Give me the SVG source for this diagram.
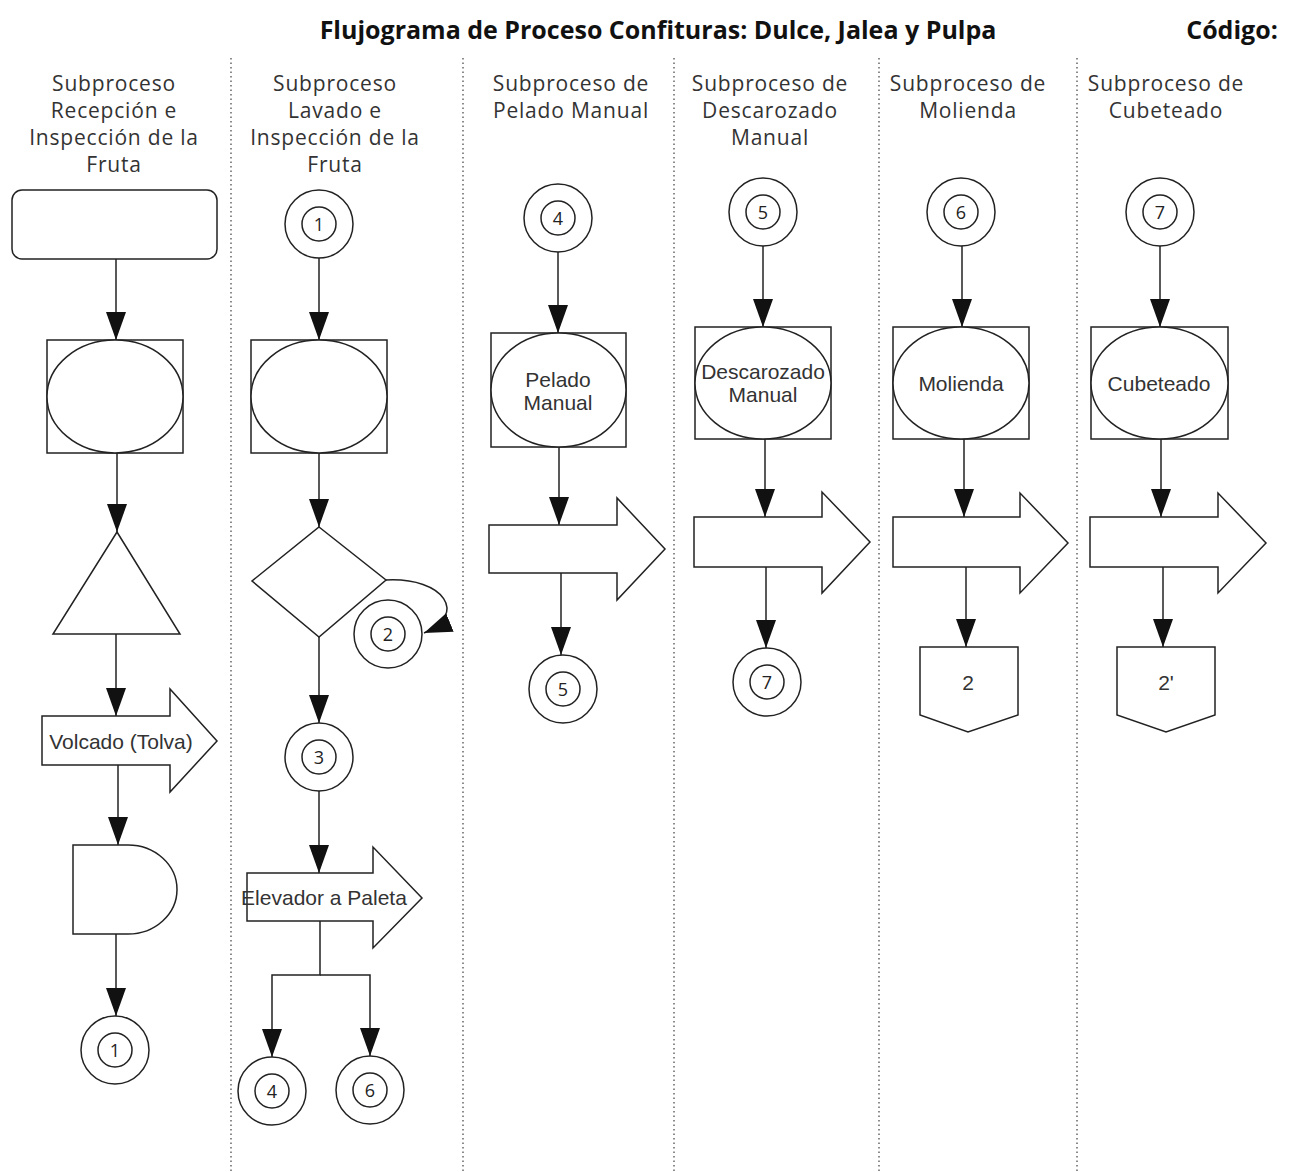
<svg xmlns="http://www.w3.org/2000/svg" width="1292" height="1172" viewBox="0 0 1292 1172">
<style>
.sh{fill:#fff;stroke:#222;stroke-width:1.5}
.ln{fill:none;stroke:#222;stroke-width:1.5}
.sep{fill:none;stroke:#666;stroke-width:1.5;stroke-dasharray:1.5 3}
.hd{font-family:"Open Sans","DejaVu Sans",sans-serif;font-size:21px;letter-spacing:0.8px;fill:#333;text-anchor:middle}
.tt{font-family:"Open Sans","DejaVu Sans",sans-serif;font-size:25px;font-weight:bold;fill:#111}
.lb{font-family:"Liberation Sans",Arial,sans-serif;font-size:21px;fill:#333;text-anchor:middle;dominant-baseline:central}
.nm{font-family:"Open Sans","DejaVu Sans",sans-serif;font-size:18px;fill:#222;text-anchor:middle;dominant-baseline:central}
</style>
<defs>
<marker id="ah" markerUnits="userSpaceOnUse" markerWidth="28" markerHeight="20" refX="28" refY="10" orient="auto">
<path d="M0,0 L28,10 L0,20 z" fill="#111"/>
</marker>
<g id="dc"><circle r="34" class="sh"/><circle r="17" class="sh"/></g>
</defs>

<g id="title">
<text class="tt" x="658" y="39" text-anchor="middle">Flujograma de Proceso Confituras: Dulce, Jalea y Pulpa</text>
<text class="tt" x="1232" y="39" text-anchor="middle">Código:</text>
</g>

<g id="separators">
<line class="sep" x1="231" y1="58" x2="231" y2="1172"/>
<line class="sep" x1="463" y1="58" x2="463" y2="1172"/>
<line class="sep" x1="674" y1="58" x2="674" y2="1172"/>
<line class="sep" x1="879" y1="58" x2="879" y2="1172"/>
<line class="sep" x1="1077" y1="58" x2="1077" y2="1172"/>
</g>

<g id="headers">
<text class="hd" x="114" y="91">Subproceso</text>
<text class="hd" x="114" y="118">Recepción e</text>
<text class="hd" x="114" y="145">Inspección de la</text>
<text class="hd" x="114" y="172">Fruta</text>
<text class="hd" x="335" y="91">Subproceso</text>
<text class="hd" x="335" y="118">Lavado e</text>
<text class="hd" x="335" y="145">Inspección de la</text>
<text class="hd" x="335" y="172">Fruta</text>
<text class="hd" x="571" y="91">Subproceso de</text>
<text class="hd" x="571" y="118">Pelado Manual</text>
<text class="hd" x="770" y="91">Subproceso de</text>
<text class="hd" x="770" y="118">Descarozado</text>
<text class="hd" x="770" y="145">Manual</text>
<text class="hd" x="968" y="91">Subproceso de</text>
<text class="hd" x="968" y="118">Molienda</text>
<text class="hd" x="1166" y="91">Subproceso de</text>
<text class="hd" x="1166" y="118">Cubeteado</text>
</g>

<g id="connectors">
<path class="ln" d="M116,259 V340" marker-end="url(#ah)"/>
<path class="ln" d="M117,453 V532" marker-end="url(#ah)"/>
<path class="ln" d="M116,634 V716" marker-end="url(#ah)"/>
<path class="ln" d="M118,765 V845" marker-end="url(#ah)"/>
<path class="ln" d="M116,934 V1016" marker-end="url(#ah)"/>

<path class="ln" d="M319,258 V340" marker-end="url(#ah)"/>
<path class="ln" d="M319,453 V527" marker-end="url(#ah)"/>
<path class="ln" d="M386,580 C445,577 468,615 424,633" marker-end="url(#ah)"/>
<path class="ln" d="M319,637 V723" marker-end="url(#ah)"/>
<path class="ln" d="M319,791 V873" marker-end="url(#ah)"/>
<path class="ln" d="M320,921 V975 H272 V1057" marker-end="url(#ah)"/>
<path class="ln" d="M320,975 H370 V1056" marker-end="url(#ah)"/>

<path class="ln" d="M558,252 V333" marker-end="url(#ah)"/>
<path class="ln" d="M559,447 V525" marker-end="url(#ah)"/>
<path class="ln" d="M561,573 V655" marker-end="url(#ah)"/>

<path class="ln" d="M763,246 V327" marker-end="url(#ah)"/>
<path class="ln" d="M765,439 V517" marker-end="url(#ah)"/>
<path class="ln" d="M766,567 V648" marker-end="url(#ah)"/>

<path class="ln" d="M962,246 V327" marker-end="url(#ah)"/>
<path class="ln" d="M964,439 V517" marker-end="url(#ah)"/>
<path class="ln" d="M966,567 V647" marker-end="url(#ah)"/>

<path class="ln" d="M1160,246 V327" marker-end="url(#ah)"/>
<path class="ln" d="M1161,439 V517" marker-end="url(#ah)"/>
<path class="ln" d="M1163,567 V647" marker-end="url(#ah)"/>
</g>

<g id="n-inicio"><rect class="sh" x="12" y="190" width="205" height="69" rx="10"/></g>
<g id="n-op-insp1"><rect class="sh" x="47" y="340" width="136" height="113"/><ellipse class="sh" cx="115" cy="396.5" rx="68" ry="56.5"/></g>
<g id="n-almacen"><path class="sh" d="M117,532 L180,634 L53,634 Z"/></g>
<g id="n-volcado"><path class="sh" d="M42,716 H170 V689 L217,741 L170,792 V765 H42 Z"/><text class="lb" x="121" y="741">Volcado (Tolva)</text></g>
<g id="n-demora"><path class="sh" d="M73,845 H128 A49,44.5 0 0 1 128,934 H73 Z"/></g>
<g id="n-c1a"><use href="#dc" x="115" y="1050"/><text class="nm" x="115" y="1050">1</text></g>

<g id="n-c1b"><use href="#dc" x="319" y="224"/><text class="nm" x="319" y="224">1</text></g>
<g id="n-op-insp2"><rect class="sh" x="251" y="340" width="136" height="113"/><ellipse class="sh" cx="319" cy="396.5" rx="68" ry="56.5"/></g>
<g id="n-decision"><path class="sh" d="M319,527 L386,580 L319,637 L252,581 Z"/></g>
<g id="n-c2"><use href="#dc" x="388" y="634"/><text class="nm" x="388" y="634">2</text></g>
<g id="n-c3"><use href="#dc" x="319" y="757"/><text class="nm" x="319" y="757">3</text></g>
<g id="n-elevador"><path class="sh" d="M247,873 H373 V847 L422,898 L373,948 V921 H247 Z"/><text class="lb" x="324" y="897">Elevador a Paleta</text></g>
<g id="n-c4a"><use href="#dc" x="272" y="1091"/><text class="nm" x="272" y="1091">4</text></g>
<g id="n-c6a"><use href="#dc" x="370" y="1090"/><text class="nm" x="370" y="1090">6</text></g>

<g id="n-c4b"><use href="#dc" x="558" y="218"/><text class="nm" x="558" y="218">4</text></g>
<g id="n-pelado"><rect class="sh" x="491" y="333" width="135" height="114"/><ellipse class="sh" cx="558.5" cy="390" rx="67.5" ry="57"/><text class="lb" x="558" y="379">Pelado</text><text class="lb" x="558" y="402">Manual</text></g>
<g id="n-tr3"><path class="sh" d="M489,525 H617 V498 L665,549 L617,600 V573 H489 Z"/></g>
<g id="n-c5a"><use href="#dc" x="563" y="689"/><text class="nm" x="563" y="689">5</text></g>

<g id="n-c5b"><use href="#dc" x="763" y="212"/><text class="nm" x="763" y="212">5</text></g>
<g id="n-descarozado"><rect class="sh" x="695" y="327" width="136" height="112"/><ellipse class="sh" cx="763" cy="383" rx="68" ry="56"/><text class="lb" x="763" y="371">Descarozado</text><text class="lb" x="763" y="394">Manual</text></g>
<g id="n-tr4"><path class="sh" d="M694,517 H822 V492 L870,542 L822,593 V567 H694 Z"/></g>
<g id="n-c7a"><use href="#dc" x="767" y="682"/><text class="nm" x="767" y="682">7</text></g>

<g id="n-c6b"><use href="#dc" x="961" y="212"/><text class="nm" x="961" y="212">6</text></g>
<g id="n-molienda"><rect class="sh" x="893" y="327" width="136" height="112"/><ellipse class="sh" cx="961" cy="383" rx="68" ry="56"/><text class="lb" x="961" y="383">Molienda</text></g>
<g id="n-tr5"><path class="sh" d="M893,517 H1020 V493 L1068,543 L1020,593 V567 H893 Z"/></g>
<g id="n-op2"><path class="sh" d="M920,647 H1018 V715 L968,732 L920,715 Z"/><text class="lb" x="968" y="682">2</text></g>

<g id="n-c7b"><use href="#dc" x="1160" y="212"/><text class="nm" x="1160" y="212">7</text></g>
<g id="n-cubeteado"><rect class="sh" x="1091" y="327" width="137" height="112"/><ellipse class="sh" cx="1159.5" cy="383" rx="68.5" ry="56"/><text class="lb" x="1159" y="383">Cubeteado</text></g>
<g id="n-tr6"><path class="sh" d="M1090,517 H1218 V493 L1266,543 L1218,593 V567 H1090 Z"/></g>
<g id="n-op2p"><path class="sh" d="M1117,647 H1215 V715 L1166,732 L1117,715 Z"/><text class="lb" x="1166" y="682">2'</text></g>
</svg>
